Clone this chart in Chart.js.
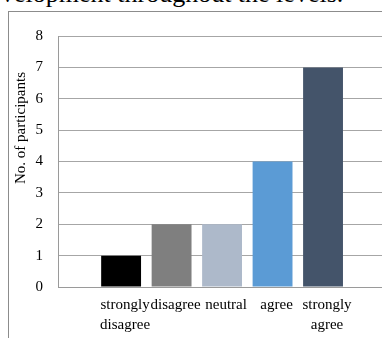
<!DOCTYPE html>
<html>
<head>
<meta charset="utf-8">
<script src="https://cdn.jsdelivr.net/npm/chart.js@4/dist/chart.umd.min.js"></script>
<style>
  html, body { margin: 0; padding: 0; background: #fff; overflow: hidden; }
  body { width: 382px; height: 338px; position: relative; }
  #caption {
    position: absolute; left: 1px; top: -19px;
    font: 26px "Liberation Serif", "Times New Roman", serif;
    line-height: 26px; white-space: nowrap; color: #000;
  }
  #frame {
    position: absolute; left: 8px; top: 11px; width: 420px; height: 400px;
    border: 1px solid #8c8c8c; box-sizing: border-box;
  }
  #chart { position: absolute; left: 0; top: 0; }
</style>
</head>
<body>
<div id="caption">velopment throughout the levels.</div>
<div id="frame"></div>
<canvas id="chart" width="424" height="338"></canvas>
<script>
// Survey responses: number of participants per answer
const categories = ['strongly disagree', 'disagree', 'neutral', 'agree', 'strongly agree'];
const tickLabels = [['strongly', 'disagree'], ['disagree'], ['neutral'], ['agree'], ['strongly', 'agree']];
const participants = [1, 2, 2, 4, 7];
const barColors = ['#000000', '#7f7f7f', '#adb9ca', '#5b9bd5', '#44546a'];
const yTicks = [0, 1, 2, 3, 4, 5, 6, 7, 8];
const yTitle = 'No. of participants';

const serif = '"Liberation Serif", "Times New Roman", serif';

// Rotated y-axis title, placed beside the upper part of the value axis
const yTitlePlugin = {
  id: 'yTitle',
  afterDraw(chart) {
    const ctx = chart.ctx;
    ctx.save();
    ctx.translate(21, 128);
    ctx.rotate(-Math.PI / 2);
    ctx.font = '15px ' + serif;
    ctx.fillStyle = '#000';
    ctx.textAlign = 'center';
    ctx.textBaseline = 'middle';
    ctx.fillText(yTitle, 0, 0);
    ctx.restore();
  }
};

new Chart(document.getElementById('chart'), {
  type: 'bar',
  data: {
    datasets: [{
      data: participants.map((v, i) => ({ x: i, y: v })),
      backgroundColor: barColors,
      borderWidth: 0,
      categoryPercentage: 1,
      barPercentage: 0.79
    }]
  },
  options: {
    responsive: false,
    devicePixelRatio: 1,
    animation: false,
    layout: { padding: { left: 0, right: 0, top: 36, bottom: 0 } },
    plugins: { legend: { display: false }, tooltip: { enabled: false } },
    scales: {
      x: {
        type: 'linear',
        offset: false,
        min: -1.25,
        max: 6,
        afterBuildTicks: s => { s.ticks = categories.map((_, i) => ({ value: i })); },
        afterFit: s => { s.height = 51; },
        grid: { display: false, drawTicks: false },
        border: { display: true, color: '#9a9a9a', width: 1 },
        ticks: {
          autoSkip: false,
          maxRotation: 0,
          padding: 9,
          labelOffset: 4,
          color: '#000',
          font: { family: serif, size: 15, lineHeight: 1.27 },
          callback: v => tickLabels[v]
        }
      },
      y: {
        min: 0,
        max: 8,
        afterBuildTicks: s => { s.ticks = yTicks.map(v => ({ value: v })); },
        afterFit: s => { s.width = 58; },
        grid: { color: '#a6a6a6', lineWidth: 1, drawTicks: false },
        border: { display: true, color: '#9a9a9a', width: 1 },
        ticks: {
          padding: 15,
          color: '#000',
          font: { family: serif, size: 15 }
        }
      }
    }
  },
  plugins: [yTitlePlugin]
});
</script>
</body>
</html>
